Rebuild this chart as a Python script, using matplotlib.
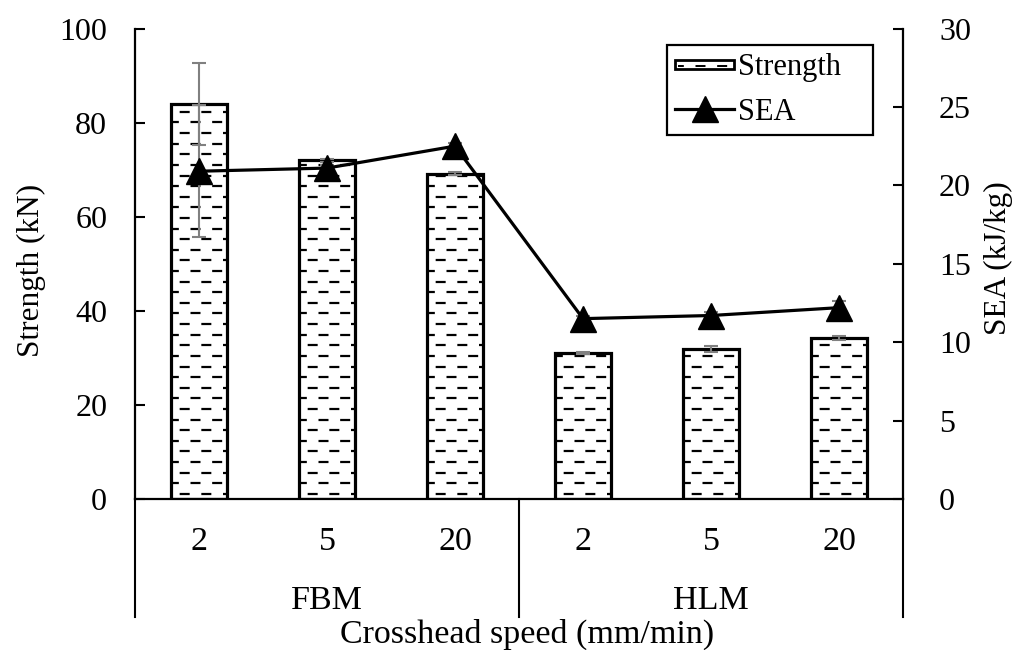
import numpy as np
import matplotlib
matplotlib.use("Agg")
import matplotlib.pyplot as plt
from matplotlib.collections import LineCollection
from matplotlib.lines import Line2D
from matplotlib.patches import Rectangle
from matplotlib.legend_handler import HandlerBase
import matplotlib.transforms as mtransforms

plt.rcParams['font.family'] = ['Liberation Serif', 'DejaVu Serif']
plt.rcParams['lines.scale_dashes'] = False

# ---- data ----
groups = ["FBM", "HLM"]
speeds = ["2", "5", "20"]
strength = [84.0, 72.0, 69.1, 31.1, 31.9, 34.3]          # kN
strength_err = [8.7, 0.3, 0.3, 0.2, 0.7, 0.45]
sea = [20.9, 21.1, 22.5, 11.5, 11.7, 12.2]                # kJ/kg
sea_err = [4.2, 0.2, 0.2, 0.2, 0.2, 0.4]

FS_TICK = 23
FS_X = 24.5
FS_YLAB = 22.5
FS_LEG = 22
W, H = 1025, 650
fig = plt.figure(figsize=(W / 100, H / 100), dpi=100)
L, R, T, B = 135, 903, 28.5, 499
ax = fig.add_axes([L / W, 1 - B / H, (R - L) / W, (B - T) / H])

n = len(strength)
x = np.arange(n)
bw = 0.445

# bars: fill, hatch (dashed rows), edges
bars = ax.bar(x, strength, width=bw, color='white', edgecolor='none', zorder=2)
row_step = 2.255
period_on, period_off = 7.2, 8.4
for rect in bars.patches:
    x0, x1 = rect.get_x(), rect.get_x() + rect.get_width()
    rows = np.arange(1.1, rect.get_height(), row_step)
    segs = [[(x0 - 0.1, yy), (x1 + 0.1, yy)] for yy in rows]
    styles = [(0 if k % 2 == 0 else (period_on + period_off) / 2, (period_on, period_off))
              for k in range(len(rows))]
    lc = LineCollection(segs, colors='black', linewidths=1.6, linestyles=styles,
                        zorder=2.5, capstyle='butt')
    ax.add_collection(lc, autolim=False)
    lc.set_clip_path(rect)
ax.bar(x, strength, width=bw, fill=False, edgecolor='black', linewidth=2.3, zorder=3)
ax.errorbar(x, strength, yerr=strength_err, fmt='none', ecolor='#808080',
            elinewidth=1.5, capsize=5, capthick=1.5, zorder=4)

ax.set_xlim(-0.5, n - 0.5)
ax.set_ylim(0, 100)
ax.set_yticks(np.arange(0, 101, 20))
ax.tick_params(axis='y', direction='in', length=7, width=1.5, pad=20, labelsize=FS_TICK)
ax.set_xticks([])
for s in ['top', 'right']:
    ax.spines[s].set_visible(False)
for s in ['left', 'bottom']:
    ax.spines[s].set_linewidth(1.6)

# secondary axis
ax2 = ax.twinx()
ax2.set_ylim(0, 30)
ax2.set_yticks(np.arange(0, 31, 5))
ax2.tick_params(axis='y', direction='in', length=7, width=1.5, pad=26, labelsize=FS_TICK)
for s in ['top', 'left', 'bottom']:
    ax2.spines[s].set_visible(False)
ax2.spines['right'].set_linewidth(1.6)
ax2.errorbar(x, sea, yerr=sea_err, fmt='none', ecolor='#808080',
             elinewidth=1.5, capsize=5, capthick=1.5, zorder=4)
line, = ax2.plot(x, sea, color='black', lw=2.3, marker='^', ms=19,
                 markeredgewidth=1, zorder=5, label='SEA')

# multi-level category axis
trans = mtransforms.blended_transform_factory(ax.transData, ax.transAxes)
depth = -(617 - B) / (B - T)
for xv in [-0.5, 2.5, 5.5]:
    ax.add_line(Line2D([xv, xv], [0, depth], transform=trans, color='black',
                       lw=1.5, clip_on=False))
lab_y = -(550 - B) / (B - T)
grp_y = -(609 - B) / (B - T)
for gi, g in enumerate(groups):
    for si, sp in enumerate(speeds):
        ax.text(gi * len(speeds) + si, lab_y, sp, transform=trans, ha='center',
                va='baseline', fontsize=FS_X)
    ax.text(gi * len(speeds) + (len(speeds) - 1) / 2, grp_y, g, transform=trans,
            ha='center', va='baseline', fontsize=FS_X)

fig.text(527 / W, 1 - 643 / H, "Crosshead speed (mm/min)", ha='center',
         va='baseline', fontsize=FS_X)
fig.text(31 / W, 1 - 270 / H, "Strength (kN)", rotation=90, ha='center',
         va='center', fontsize=FS_YLAB)
fig.text(998 / W, 1 - 258 / H, "SEA (kJ/kg)", rotation=90, ha='center',
         va='center', fontsize=FS_YLAB)


# legend
class HatchHandler(HandlerBase):
    def create_artists(self, legend, orig_handle, xdescent, ydescent, width,
                       height, fontsize, trans):
        h = 0.45 * height
        y0 = -ydescent + (height - h) / 2
        r = Rectangle((-xdescent, y0), width, h, facecolor='white',
                      edgecolor='black', lw=2.0, transform=trans)
        ln = Line2D([-xdescent + 2, -xdescent + width - 2], [y0 + h * 0.35] * 2,
                    color='black', lw=1.4, linestyle=(3, (period_on, period_off)),
                    transform=trans)
        return [r, ln]


proxy = Rectangle((0, 0), 1, 1, label='Strength')
lx0 = (667 - L) / (R - L)
lw_ = (873 - 667) / (R - L)
ly1 = (B - 45) / (B - T)
leg = ax2.legend([proxy, line], ['Strength', 'SEA'],
                 handler_map={Rectangle: HatchHandler()},
                 loc='upper left', bbox_to_anchor=(lx0, ly1 - 0.217, lw_, 0.217),
                 mode='expand', fontsize=FS_LEG, frameon=True, fancybox=False,
                 edgecolor='black', framealpha=1, borderpad=0.27,
                 labelspacing=0.5, handlelength=1.93, handletextpad=0.13,
                 borderaxespad=0)
leg.get_frame().set_linewidth(1.6)

fig.savefig("out.png", dpi=100)
